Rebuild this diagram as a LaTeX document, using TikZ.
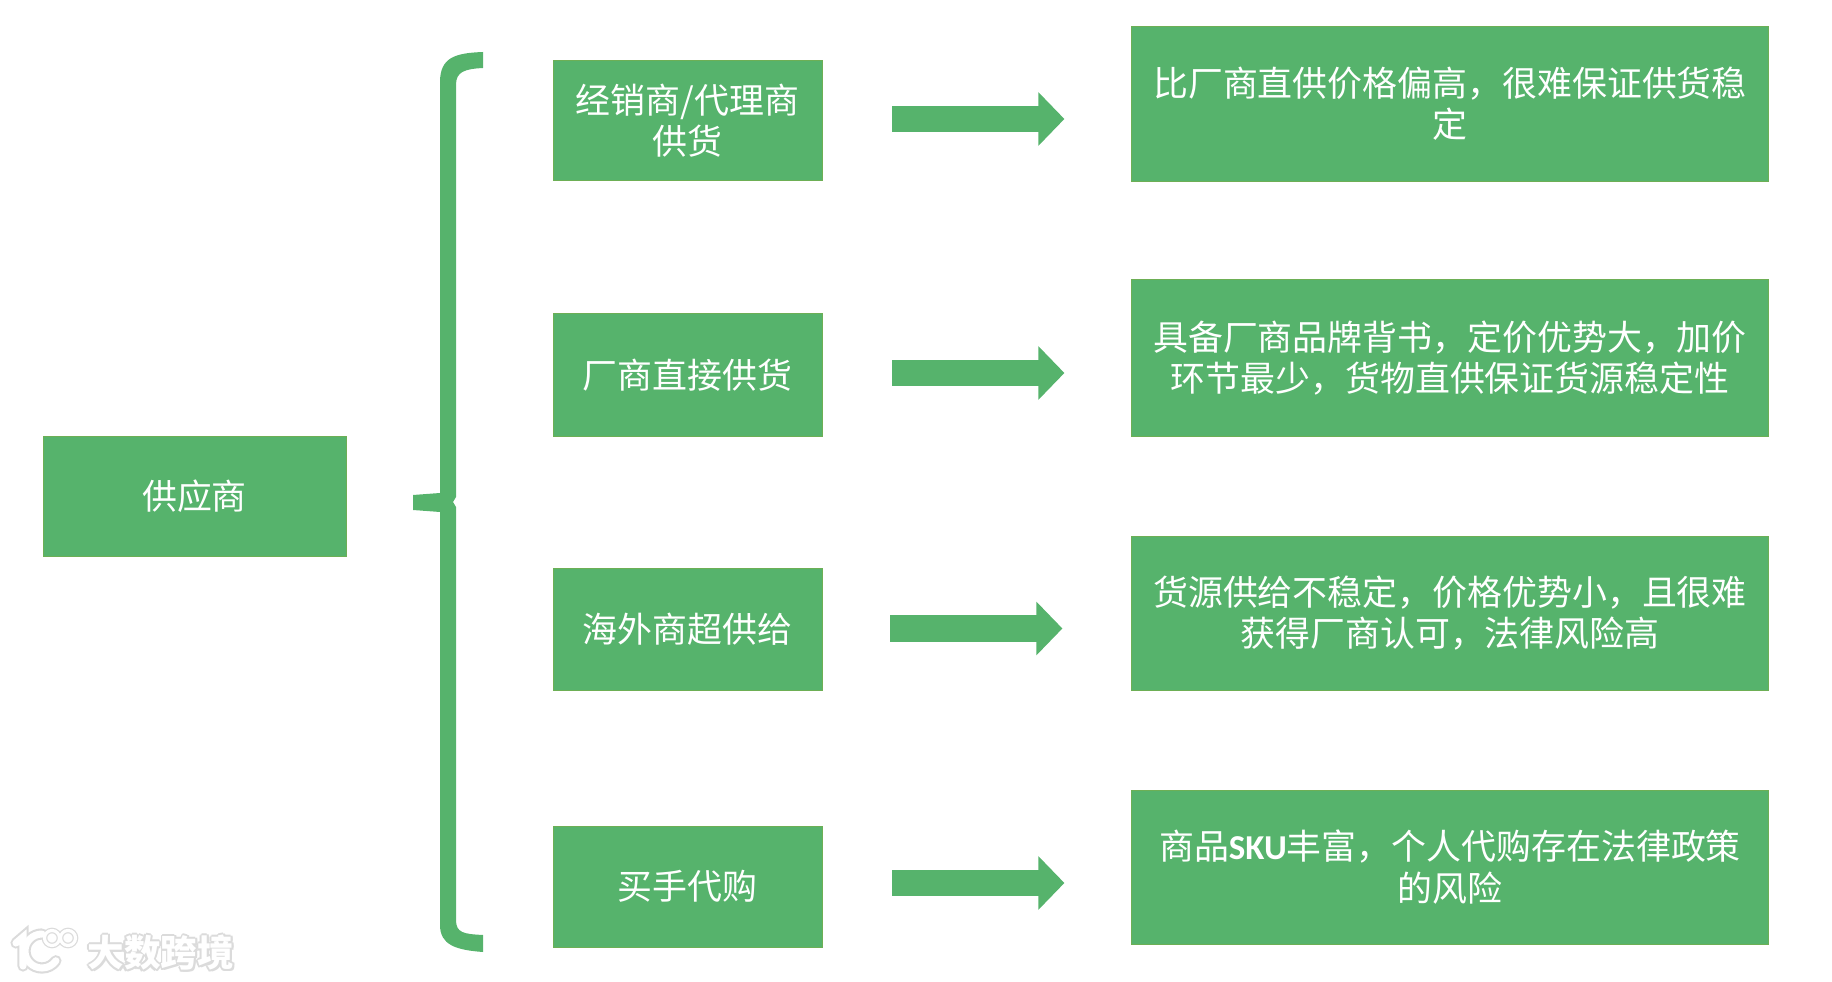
\documentclass[tikz,border=0pt]{standalone}
\usepackage{fontspec}
\setmainfont{Noto Sans CJK SC}
\newfontfamily\latinfont{Carlito}
\usetikzlibrary{arrows.meta}
\definecolor{boxgreen}{HTML}{56B36C}
\definecolor{boxedge}{HTML}{6DAF55}
\tikzset{
  greenbox/.style={fill=boxgreen, draw=boxedge, line width=.2pt, inner sep=0pt, align=center, text=white, font=\fontsize{9.93pt}{11.7pt}\selectfont},
  namebox/.style={greenbox, minimum width=2.69cm},
  notebox/.style={greenbox, minimum width=6.36cm},
  blockarrow/.style={boxgreen, line width=.26cm, -{Triangle[length=.26cm, width=.52cm]}, shorten <=.70cm, shorten >=.67cm},
  marktext/.style={inner sep=0pt, font=\fontsize{10.4pt}{10.4pt}\bfseries\selectfont}
}
\begin{document}
\begin{tikzpicture}[x=.01cm, y=-.01cm]
\useasboundingbox (0,0) rectangle (1832,982);
\node[greenbox, minimum width=3.03cm, minimum height=1.20cm] (supplier) at (194.5,496.5) {供应商};
\node[namebox, minimum height=1.20cm] (dealer) at (687.5,120.5) {经销商/代理商\\供货};
\node[namebox, minimum height=1.23cm] (maker) at (687.5,375) {厂商直接供货};
\node[namebox, minimum height=1.22cm] (overseas) at (687.5,629.5) {海外商超供给};
\node[namebox, minimum height=1.21cm] (buyer) at (687.5,886.5) {买手代购};
\node[notebox, minimum height=1.55cm] (dealernote) at (1450,104) {比厂商直供价格偏高，很难保证供货稳\\定};
\node[notebox, minimum height=1.57cm] (makernote) at (1450,358) {具备厂商品牌背书，定价优势大，加价\\环节最少，货物直供保证货源稳定性};
\node[notebox, minimum height=1.54cm] (overseasnote) at (1450,613) {货源供给不稳定，价格优势小，且很难\\获得厂商认可，法律风险高};
\node[notebox, minimum height=1.54cm] (buyernote) at (1450,867) {商品{\latinfont\bfseries SKU}丰富，个人代购存在法律政策\\的风险};
\draw[blockarrow] (dealer.east |- 0,119) -- (dealernote.west |- 0,119);
\draw[blockarrow] (maker.east |- 0,373) -- (makernote.west |- 0,373);
\draw[blockarrow, shorten <=.68cm, shorten >=.69cm] (overseas.east |- 0,628.5) -- (overseasnote.west |- 0,628.5);
\draw[blockarrow] (buyer.east |- 0,883) -- (buyernote.west |- 0,883);
% the brace
\fill[boxgreen] (483,52) .. controls (456,53) and (440,57) .. (440,82) -- (440,493) -- (413,495) -- (413,510) -- (440,512) -- (440,925) .. controls (440,945) and (456,950) .. (483,952)
  -- (483,935) .. controls (464,934) and (456,933) .. (456,920) -- (456,507) -- (453,502) -- (456,497) -- (456,85) .. controls (456,72) and (464,69) .. (483,68) -- cycle;
% the mark in the corner
\foreach \c/\w/\o in {black!14/3.2pt/1.6pt, white/2pt/.9pt}{
  \draw[\c, line width=\w, line cap=round] (16,943) -- (23,937) -- (23,966);
  \draw[\c, line width=\w, line cap=round] (42,934) arc (270:35:17);
  \draw[\c, line width=\o] (52,938) circle (7.5);
  \draw[\c, line width=\o] (68,938) circle (7.5);
}
\foreach \dx/\dy in {-2/0, 2/0, 0/-2, 0/2, -1.5/-1.5, 1.5/1.5, -1.5/1.5, 1.5/-1.5}{
  \node[marktext, text=black!14] at (161+\dx,953+\dy) {大数跨境};
}
\node[marktext, text=white] (mark) at (161,953) {大数跨境};
\end{tikzpicture}
\end{document}
